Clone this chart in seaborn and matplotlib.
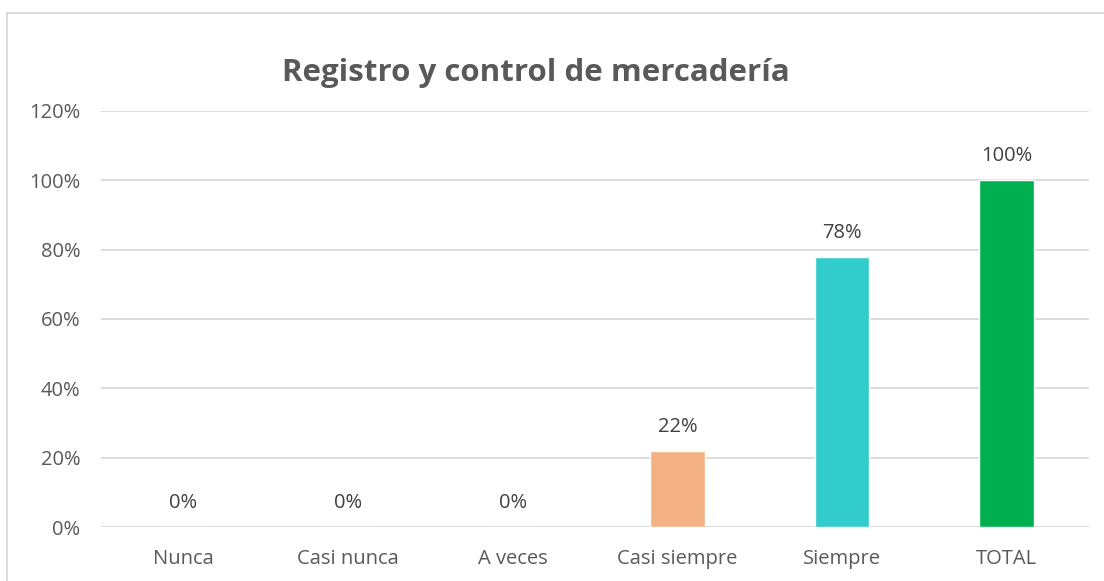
import matplotlib
matplotlib.use("Agg")
import matplotlib.pyplot as plt
import seaborn as sns
import pandas as pd
from matplotlib.patches import Rectangle
from matplotlib.ticker import PercentFormatter

categorias = ["Nunca", "Casi nunca", "A veces", "Casi siempre", "Siempre", "TOTAL"]
porcentajes = [0, 0, 0, 22, 78, 100]
colores = ["#5B9BD5", "#ED7D31", "#A5A5A5", "#F4B183", "#33CCCC", "#00B050"]

df = pd.DataFrame({"categoria": categorias, "porcentaje": porcentajes})

sns.set_style("white")
plt.rcParams["font.family"] = ["Open Sans", "DejaVu Sans"]

fig = plt.figure(figsize=(11.04, 5.81), dpi=100)
ax = fig.add_axes([0.0915, 0.0929, 0.8949, 0.7161])

sns.barplot(data=df, x="categoria", y="porcentaje", hue="categoria",
            palette=colores, width=0.33, saturation=1, legend=False, ax=ax, zorder=3)

ax.set_ylim(0, 120)
ax.set_yticks(range(0, 121, 20))
ax.yaxis.set_major_formatter(PercentFormatter(decimals=0))
ax.grid(axis="y", color="#D9D9D9", linewidth=1.3, zorder=0)
ax.set_axisbelow(True)
for s in ax.spines.values():
    s.set_visible(False)
ax.tick_params(axis="both", length=0, labelsize=14.5, colors="#595959")
ax.tick_params(axis="x", pad=16)
ax.tick_params(axis="y", pad=15)
ax.set_xlabel("")
ax.set_ylabel("")

for i, v in enumerate(porcentajes):
    ax.text(i, v + 4, f"{v}%", ha="center", va="bottom", fontsize=14.5, color="#404040")

fig.text(0.485, 0.875, "Registro y control de mercadería", ha="center", va="center",
         fontsize=22.5, fontweight="bold", color="#595959")

fig.patches.append(Rectangle((7 / 1104, -0.1), 1.2, 1.1 - 13 / 581,
                             transform=fig.transFigure, fill=False,
                             edgecolor="#D9D9D9", linewidth=1.3))

fig.savefig("out.png", dpi=100)
